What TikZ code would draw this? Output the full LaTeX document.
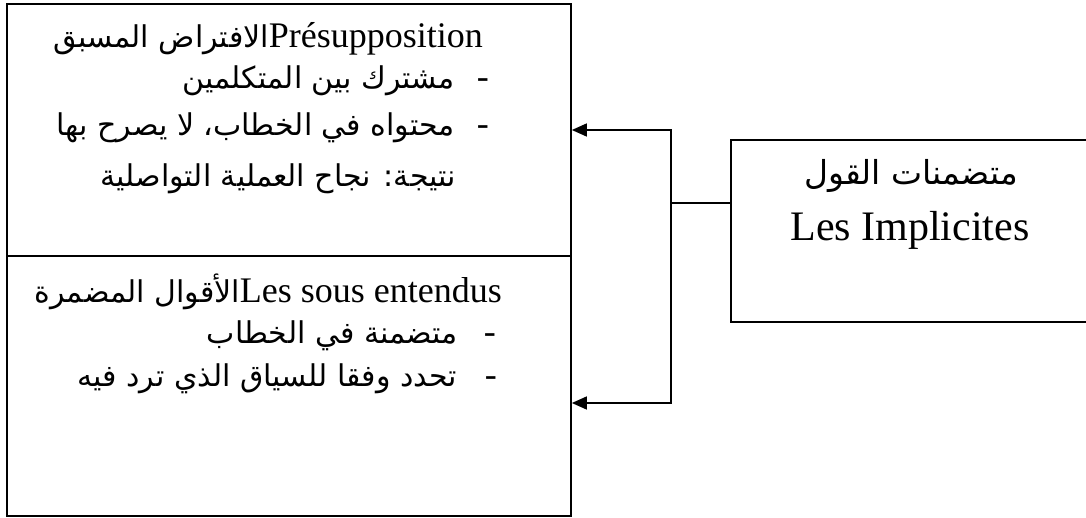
\documentclass[tikz,border=0pt]{standalone}
\usepackage{fontspec}
\setmainfont{Liberation Serif}
\newfontfamily\arabicfont[Script=Arabic]{DejaVu Sans}
\TeXXeTstate=1
\usetikzlibrary{arrows.meta}
\newcommand{\ARs}[1]{{\arabicfont\fontsize{30}{34}\selectfont\beginR #1\endR}}
\newcommand{\ARb}[1]{{\arabicfont\fontsize{33}{37}\selectfont\beginR #1\endR}}
\begin{document}
\begin{tikzpicture}[x=1pt,y=-1pt,
  box/.style={draw,line width=1.7pt,rectangle,inner sep=0pt},
  lat/.style={inner sep=0pt,anchor=base east,font=\fontsize{36}{40}\selectfont},
  big/.style={inner sep=0pt,anchor=base,font=\fontsize{42}{46}\selectfont},
  conn/.style={line width=1.5pt},
  tip/.style={-{Triangle[length=15pt,width=13pt]}}
]
\useasboundingbox (0,0) rectangle (1086,518);
\clip (0,0) rectangle (1086,518);
% boxes
\node[box,minimum width=564pt,minimum height=252pt] (top) at (289,130) {};
\node[box,minimum width=564pt,minimum height=260pt] (bot) at (289,386) {};
\node[box,line width=1.5pt,minimum width=358pt,minimum height=182pt] (rb) at (910,231) {};
% top box text
\node[lat] (t1) at (483,48) {\ARs{الافتراض المسبق}Présupposition};
\node[lat] (t2) at (489,89) {\ARs{مشترك بين المتكلمين}\hspace{22pt}-};
\node[lat] (t3) at (489,136) {\ARs{محتواه في الخطاب، لا يصرح بها}\hspace{22pt}-};
\node[lat] (t4) at (456,187) {\ARs{نتيجة: نجاح العملية التواصلية}};
% bottom box text
\node[lat] (b1) at (502,303) {\ARs{الأقوال المضمرة}Les sous entendus};
\node[lat] (b2) at (496,343) {\ARs{متضمنة في الخطاب}\hspace{26pt}-};
\node[lat] (b3) at (497,386) {\ARs{تحدد وفقا للسياق الذي ترد فيه}\hspace{28pt}-};
% right box text
\node[big] (r1) at (911,185) {\ARb{متضمنات القول}};
\node[big] (r2) at (910,241) {Les Implicites};
% connectors
\coordinate (j) at (671,203);
\draw[conn] (rb.west |- j) -- (j);
\draw[conn,tip] (j) |- (top.east);
\draw[conn,tip] (j) |- ([yshift=-17pt]bot.east);
\end{tikzpicture}
\end{document}
